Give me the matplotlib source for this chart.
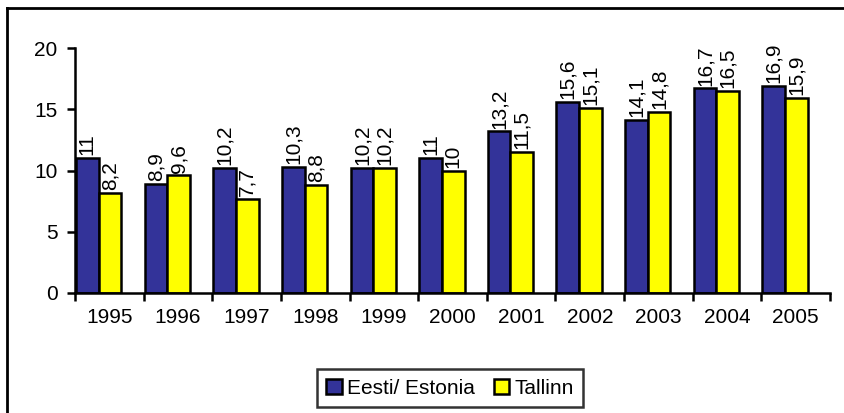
import matplotlib.pyplot as plt
import numpy as np
from matplotlib.lines import Line2D

years = ["1995", "1996", "1997", "1998", "1999", "2000",
         "2001", "2002", "2003", "2004", "2005"]
estonia = [11, 8.9, 10.2, 10.3, 10.2, 11, 13.2, 15.6, 14.1, 16.7, 16.9]
tallinn = [8.2, 9.6, 7.7, 8.8, 10.2, 10, 11.5, 15.1, 14.8, 16.5, 15.9]

plt.rcParams["font.family"] = ["Liberation Sans", "DejaVu Sans"]
FS = 15

fig = plt.figure(figsize=(8.44, 4.13), dpi=100)
ax = fig.add_axes([75 / 844, 1 - 293 / 413, 755 / 844, 245 / 413])

x = np.arange(len(years))
w = 0.33
b1 = ax.bar(x - 0.32, estonia, w, color="#333399", edgecolor="black",
            linewidth=1.8, label="Eesti/ Estonia")
b2 = ax.bar(x + 0.01, tallinn, w, color="#FFFF00", edgecolor="black",
            linewidth=1.8, label="Tallinn")

def fmt(v):
    return f"{v:g}".replace(".", ",")

for bars, vals in ((b1, estonia), (b2, tallinn)):
    for r, v in zip(bars, vals):
        ax.annotate(fmt(v), (r.get_x() + r.get_width() / 2, v),
                    xytext=(0, 2), textcoords="offset points",
                    rotation=90, ha="center", va="bottom", fontsize=FS)

ax.set_xlim(-0.5, len(years) - 0.5)
ax.set_ylim(0, 20)
ax.set_yticks([0, 5, 10, 15, 20])
ax.set_xticks(x)
ax.set_xticklabels(years)
ax.set_xticks(np.arange(len(years) + 1) - 0.5, minor=True)
ax.tick_params(axis="x", which="major", length=0, pad=11, labelsize=FS)
ax.tick_params(axis="x", which="minor", length=5.5, width=1.8, direction="out")
ax.tick_params(axis="y", length=5.5, width=1.8, direction="out", pad=7, labelsize=FS)
for s in ("top", "right"):
    ax.spines[s].set_visible(False)
for s in ("left", "bottom"):
    ax.spines[s].set_linewidth(1.8)

leg = fig.legend(loc="center", bbox_to_anchor=(450 / 844, 1 - 388 / 413), ncol=2,
                 fontsize=FS, handlelength=0.75, handleheight=0.75,
                 handletextpad=0.25, columnspacing=0.9, fancybox=False,
                 frameon=True, borderpad=0.45, borderaxespad=0)
leg.get_frame().set_edgecolor("black")
leg.get_frame().set_linewidth(1.8)
for h in leg.legend_handles:
    h.set_linewidth(1.8)

# chart border (right and bottom edges fall outside the image)
fig.add_artist(Line2D([7 / 844, 1], [1 - 8 / 413] * 2, color="black", lw=2))
fig.add_artist(Line2D([7 / 844] * 2, [0, 1 - 8 / 413], color="black", lw=2))

fig.savefig("out.png", dpi=100)
